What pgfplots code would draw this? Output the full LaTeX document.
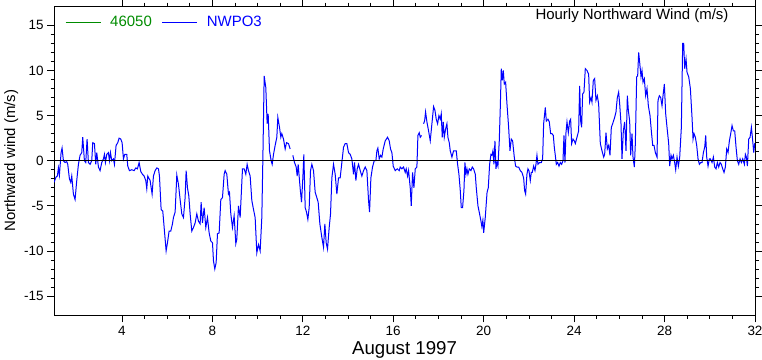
\documentclass[border=0pt]{standalone}
\usepackage{fontspec}
\setmainfont{Liberation Sans}
\usepackage{pgfplots}
\pgfplotsset{compat=1.18}
\definecolor{grn}{RGB}{0,140,0}
\definecolor{blu}{RGB}{0,0,255}
\begin{document}
\begin{tikzpicture}
\begin{axis}[
  scale only axis, width=700bp, height=309bp,
  xmin=1, xmax=32, ymin=-17.15, ymax=17.15,
  xtick={4,8,...,32}, minor x tick num=3,
  ytick={-15,-10,...,15}, minor y tick num=4,
  tick align=outside, major tick length=7bp, minor tick length=3.5bp,
  axis line style={line width=0.8bp},
  every tick/.style={black, line width=0.7bp},
  tick label style={font=\fontsize{13.5}{15}\selectfont},
  /pgf/number format/assume math mode=true,
  xlabel={August 1997},
  xlabel style={font=\fontsize{18.7}{21}\selectfont, yshift=1bp},
  ylabel={Northward wind (m/s)},
  ylabel style={font=\fontsize{15}{17}\selectfont, yshift=-1bp},
  unbounded coords=jump,
  legend image code/.code={\draw[#1] (0bp,0bp) -- (35bp,0bp);},
  legend style={at={(0,1)}, anchor=north west, xshift=11bp, yshift=-8bp,
    draw=none, fill=none, inner sep=0pt, legend columns=-1,
    font=\fontsize{15}{17}\selectfont,
    /tikz/every odd column/.append style={column sep=7bp},
    /tikz/every even column/.append style={column sep=8bp}},
]
\addlegendimage{grn, line width=0.9bp}
\addlegendentry{\textcolor{grn}{46050}}
\addplot[blu, line width=1bp] table {
x y
1.000 -2.4
1.088 -1.8
1.147 -1.7
1.192 -0.8
1.236 -1.6
1.310 0.9
1.354 1.4
1.413 0.0
1.487 -0.2
1.560 -0.1
1.605 -0.4
1.678 -2.0
1.737 -2.4
1.782 -1.7
1.855 -3.7
1.929 -4.3
2.003 -2.2
2.077 -0.4
2.150 0.6
2.224 0.9
2.268 2.6
2.342 0.0
2.401 -0.2
2.460 2.4
2.519 -0.2
2.593 -0.4
2.667 0.0
2.711 2.0
2.785 1.9
2.844 -0.4
2.888 0.9
2.962 -0.7
3.035 -1.1
3.109 -0.2
3.183 0.2
3.227 0.7
3.271 -0.2
3.330 0.7
3.404 0.9
3.448 0.0
3.493 0.9
3.552 0.0
3.625 0.2
3.670 -0.4
3.743 1.7
3.817 2.0
3.876 2.5
3.950 2.4
4.009 2.0
4.068 0.2
4.127 0.7
4.215 0.7
4.260 -0.6
4.333 -1.1
4.437 -1.0
4.540 -1.1
4.614 -0.8
4.687 -0.9
4.761 -0.2
4.835 -1.2
4.909 -1.5
4.982 -1.7
5.056 -2.2
5.100 -3.1
5.144 -1.7
5.248 -2.2
5.336 -3.7
5.395 -1.7
5.469 -1.1
5.543 -0.8
5.617 -0.9
5.661 -1.7
5.735 -5.4
5.808 -5.6
5.882 -7.8
5.956 -10.0
6.015 -9.1
6.088 -7.8
6.162 -7.8
6.236 -7.0
6.280 -6.3
6.354 -5.7
6.428 -1.6
6.501 -2.6
6.575 -4.3
6.649 -5.9
6.723 -6.3
6.796 -4.1
6.841 -1.1
6.900 -3.0
6.959 -3.9
7.018 -5.9
7.091 -7.8
7.165 -7.4
7.239 -6.9
7.313 -5.9
7.386 -6.7
7.460 -7.0
7.504 -4.6
7.563 -6.9
7.637 -5.2
7.711 -7.4
7.785 -6.3
7.858 -8.0
7.932 -8.9
8.006 -9.1
8.050 -11.1
8.109 -12.0
8.168 -11.3
8.227 -8.1
8.301 -8.0
8.375 -4.3
8.448 -4.1
8.522 -1.5
8.566 -1.1
8.640 -1.5
8.713 -3.7
8.758 -3.5
8.817 -5.9
8.890 -7.4
8.964 -6.1
9.038 -9.2
9.082 -8.7
9.156 -5.0
9.230 -6.3
9.333 -0.9
9.407 -0.9
9.480 -1.5
9.539 -0.4
9.598 -1.1
9.672 -1.7
9.746 -4.4
9.820 -5.4
9.893 -6.3
9.967 -10.2
10.041 -9.3
10.115 -10.0
10.188 -6.3
10.233 0.0
10.292 9.4
10.365 8.1
10.424 4.1
10.469 5.2
10.528 1.1
10.601 0.0
10.646 -0.4
10.705 0.7
10.778 1.7
10.852 2.6
10.896 4.8
10.970 3.7
11.029 2.6
11.073 3.0
11.147 2.4
11.221 1.3
11.280 2.0
11.368 1.9
11.442 1.3
11.500 nan
11.560 0.6
11.634 -0.2
11.708 -0.7
11.752 -1.7
11.796 -0.4
11.885 -3.1
11.944 -4.6
12.003 -1.9
12.047 0.7
12.106 -5.2
12.165 -5.7
12.224 -6.5
12.283 -5.2
12.342 -1.1
12.401 -0.4
12.475 -1.1
12.548 -3.5
12.622 -4.1
12.681 -4.6
12.755 -7.0
12.843 -8.5
12.917 -9.6
12.976 -7.0
13.035 -9.1
13.094 -9.8
13.168 -7.4
13.227 -5.9
13.286 -1.9
13.359 -0.4
13.433 -1.5
13.507 -3.7
13.581 -1.9
13.654 -1.9
13.728 -0.2
13.802 1.5
13.876 1.9
13.949 1.9
14.023 0.9
14.097 0.7
14.171 0.2
14.244 -1.5
14.289 -0.2
14.348 -2.2
14.407 -0.9
14.466 -0.4
14.540 -1.1
14.613 -1.7
14.687 -1.1
14.761 -0.7
14.835 -1.1
14.908 -4.4
14.953 -5.7
15.012 -1.9
15.085 -0.7
15.159 0.0
15.233 0.0
15.277 1.1
15.321 1.4
15.380 0.2
15.439 0.6
15.498 0.4
15.557 1.3
15.646 2.2
15.749 2.6
15.823 2.2
15.882 1.3
15.941 0.9
16.000 -0.6
16.088 -1.1
16.177 -0.9
16.265 -1.1
16.310 -0.7
16.384 -0.9
16.457 -0.7
16.531 -1.3
16.575 -0.9
16.634 -1.7
16.679 -1.1
16.752 -3.0
16.797 -5.0
16.856 -1.3
16.915 -3.0
16.974 -0.9
17.047 -0.7
17.092 2.8
17.151 3.1
17.195 2.6
17.254 2.8
17.300 nan
17.342 4.1
17.387 4.4
17.431 5.4
17.490 4.3
17.564 3.3
17.637 2.2
17.711 4.1
17.785 6.0
17.844 5.6
17.903 4.6
17.962 4.1
18.021 5.0
18.080 4.6
18.124 5.2
18.168 2.6
18.213 4.3
18.257 2.6
18.316 3.5
18.375 4.1
18.419 2.6
18.478 2.0
18.522 1.1
18.596 0.4
18.670 1.1
18.744 1.1
18.788 1.1
18.847 -0.4
18.906 -1.5
18.965 -3.3
19.009 -5.2
19.068 -5.2
19.127 -3.3
19.171 -0.2
19.216 -1.5
19.260 -0.9
19.304 -1.5
19.363 -0.9
19.437 -1.1
19.496 -0.7
19.555 -0.9
19.629 -1.5
19.673 -3.0
19.747 -5.0
19.820 -5.9
19.880 -6.7
19.920 -7.3
19.965 -6.6
20.000 -8.0
20.070 -6.3
20.150 -3.5
20.204 -3.0
20.263 -0.4
20.322 0.7
20.366 0.6
20.410 1.1
20.454 -0.4
20.499 2.2
20.543 -0.9
20.587 -0.2
20.631 -0.6
20.690 2.2
20.735 5.9
20.779 10.2
20.823 8.9
20.868 10.0
20.912 8.5
20.971 8.7
21.030 6.3
21.104 3.7
21.163 1.1
21.221 2.4
21.280 2.2
21.354 0.4
21.413 -0.6
21.472 -0.7
21.546 -0.7
21.620 -1.1
21.693 -1.3
21.767 -1.9
21.811 -3.3
21.856 -3.7
21.914 -1.5
21.959 -0.9
22.003 -1.1
22.062 -2.2
22.106 -1.3
22.150 -1.3
22.210 -0.6
22.269 -1.1
22.313 -0.4
22.357 0.6
22.401 -0.4
22.475 -0.2
22.549 -0.2
22.608 0.2
22.652 4.1
22.726 5.9
22.770 4.4
22.844 4.6
22.903 4.3
22.962 3.0
23.021 3.0
23.080 2.8
23.124 1.5
23.168 0.6
23.213 -0.4
23.272 -0.2
23.331 -0.6
23.390 -0.2
23.449 -0.4
23.508 0.0
23.552 2.8
23.596 -0.2
23.640 3.1
23.685 4.3
23.744 3.1
23.803 4.4
23.847 4.6
23.891 1.9
23.950 2.4
24.009 2.2
24.053 1.9
24.127 2.6
24.200 3.3
24.245 8.3
24.289 4.4
24.333 3.7
24.377 7.4
24.436 7.6
24.495 10.2
24.569 10.0
24.643 9.6
24.687 6.5
24.746 7.0
24.790 6.5
24.849 8.9
24.908 9.1
24.967 6.7
25.026 7.2
25.085 6.3
25.159 1.9
25.233 1.1
25.307 0.4
25.351 0.7
25.410 3.1
25.469 1.3
25.528 1.7
25.587 0.6
25.646 3.7
25.705 4.1
25.793 4.8
25.852 5.4
25.911 7.0
25.970 7.6
26.015 6.3
26.074 4.1
26.118 0.2
26.177 3.3
26.236 4.3
26.295 1.1
26.354 7.2
26.398 5.6
26.457 4.4
26.501 0.6
26.560 3.0
26.605 0.4
26.664 -0.7
26.708 1.9
26.767 9.3
26.811 9.4
26.855 12.0
26.900 10.9
26.959 9.3
27.003 10.0
27.047 8.7
27.106 9.1
27.165 7.2
27.224 8.0
27.283 6.1
27.357 5.0
27.416 3.3
27.475 1.7
27.534 1.7
27.593 0.9
27.667 0.4
27.711 6.7
27.770 7.2
27.829 7.0
27.888 6.1
27.932 7.2
27.991 8.5
28.050 5.2
28.109 3.7
28.183 1.9
28.227 -0.6
28.286 0.6
28.330 0.2
28.389 0.6
28.448 -0.2
28.493 -1.0
28.552 0.4
28.611 -0.6
28.670 0.4
28.743 3.7
28.802 13.0
28.847 13.0
28.891 10.2
28.950 11.3
28.994 9.8
29.068 9.3
29.142 8.0
29.215 4.8
29.260 2.4
29.304 3.0
29.363 2.6
29.422 1.7
29.481 0.2
29.540 -0.4
29.599 -0.2
29.658 -0.2
29.717 0.9
29.776 1.5
29.820 2.8
29.864 0.4
29.923 -0.6
29.982 0.2
30.027 0.2
30.100 -0.2
30.159 0.4
30.218 -0.7
30.277 -0.9
30.336 -0.2
30.395 -0.7
30.454 -0.2
30.513 -0.4
30.572 -0.9
30.631 -1.3
30.690 -0.7
30.749 1.3
30.808 0.9
30.867 2.2
30.926 3.0
30.985 3.9
31.044 3.3
31.103 3.3
31.162 1.5
31.221 0.0
31.280 -0.4
31.339 0.2
31.398 -0.2
31.457 0.2
31.531 -0.4
31.575 0.7
31.619 0.4
31.664 -0.6
31.723 2.4
31.782 2.6
31.841 3.7
31.885 2.6
31.944 0.9
31.988 1.9
32.000 1.9
};
\addlegendentry{\textcolor{blu}{NWPO3}}
\addplot[black, line width=1.1bp, forget plot] coordinates {(1,0) (32,0)};
\node[anchor=base east, font=\fontsize{15}{17}\selectfont] at (rel axis cs:1,1) [xshift=-23bp, yshift=-13.5bp] {Hourly Northward Wind (m/s)};
\end{axis}
\pgfresetboundingbox
\path[use as bounding box] (current axis.south west) ++(-54bp,-44bp) rectangle ([xshift=7bp,yshift=6bp]current axis.north east);
\end{tikzpicture}
\end{document}
